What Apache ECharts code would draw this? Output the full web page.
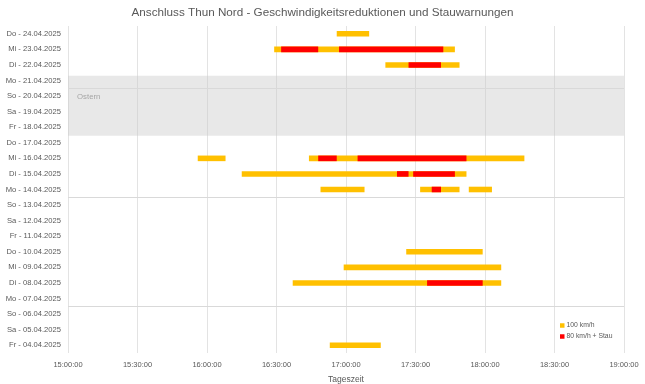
<!DOCTYPE html>
<html><head><meta charset="utf-8">
<script src="https://cdn.jsdelivr.net/npm/echarts@6/dist/echarts.min.js"></script>
<style>html,body{margin:0;padding:0;background:#fff}#c{width:645px;height:384px}</style>
</head><body><div id="c"></div>
<script>
const days = ['Fr - 04.04.2025','Sa - 05.04.2025','So - 06.04.2025','Mo - 07.04.2025','Di - 08.04.2025','Mi - 09.04.2025','Do - 10.04.2025','Fr - 11.04.2025','Sa - 12.04.2025','So - 13.04.2025','Mo - 14.04.2025','Di - 15.04.2025','Mi - 16.04.2025','Do - 17.04.2025','Fr - 18.04.2025','Sa - 19.04.2025','So - 20.04.2025','Mo - 21.04.2025','Di - 22.04.2025','Mi - 23.04.2025','Do - 24.04.2025'];
const yellow100 = [
  ['Fr - 04.04.2025','16:53','17:15'],
  ['Di - 08.04.2025','16:37','18:07'],
  ['Mi - 09.04.2025','16:59','18:07'],
  ['Do - 10.04.2025','17:26','17:59'],
  ['Mo - 14.04.2025','16:49','17:08'],
  ['Mo - 14.04.2025','17:32','17:49'],
  ['Mo - 14.04.2025','17:53','18:03'],
  ['Di - 15.04.2025','16:15','17:52'],
  ['Mi - 16.04.2025','15:56','16:08'],
  ['Mi - 16.04.2025','16:44','18:17'],
  ['Di - 22.04.2025','17:17','17:49'],
  ['Mi - 23.04.2025','16:29','17:47'],
  ['Do - 24.04.2025','16:56','17:10']
];
const red80Stau = [
  ['Di - 08.04.2025','17:35','17:59'],
  ['Mo - 14.04.2025','17:37','17:41'],
  ['Di - 15.04.2025','17:22','17:27'],
  ['Di - 15.04.2025','17:29','17:47'],
  ['Mi - 16.04.2025','16:48','16:56'],
  ['Mi - 16.04.2025','17:05','17:52'],
  ['Di - 22.04.2025','17:27','17:41'],
  ['Mi - 23.04.2025','16:32','16:48'],
  ['Mi - 23.04.2025','16:57','17:42']
];
const weekSeparators = [2.5, 9.5, 16.5];
const easterBand = ['Fr - 18.04.2025','Mo - 21.04.2025','Ostern'];
const xTicks = ['15:00','19:00'];

const toMin = s => { const p = s.split(':'); return (+p[0])*60 + (+p[1]); };
const fmt = m => String(Math.floor(m/60)).padStart(2,'0') + ':' + String(m%60).padStart(2,'0') + ':00';
const toData = arr => arr.map(r => [toMin(r[1]), toMin(r[2]), days.indexOf(r[0])]);

function renderSeg(params, api){
  const s = api.coord([api.value(0), api.value(2)]);
  const e = api.coord([api.value(1), api.value(2)]);
  const h = api.size([0,1])[1] * 0.36;
  return {type:'rect', shape:{x:s[0], y:s[1]-h/2, width:e[0]-s[0], height:h}, style:{fill: api.visual('color')}};
}

const chart = echarts.init(document.getElementById('c'));
chart.setOption({
  animation:false,
  textStyle:{fontFamily:'"Liberation Sans",sans-serif'},
  title:{text:'Anschluss Thun Nord - Geschwindigkeitsreduktionen und Stauwarnungen', left:'center', top:2,
    textStyle:{fontSize:11.7, fontWeight:'normal', color:'#595959'}},
  grid:{left:68, right:21, top:26, bottom:31, outerBoundsMode:'none', containLabel:false},
  legend:{orient:'vertical', left:555, top:317, itemWidth:4.5, itemHeight:4.5, itemGap:4,
    textStyle:{fontSize:6.8, color:'#595959', padding:[0,0,0,-3]},
    data:[{name:'100 km/h', icon:'rect'},{name:'80 km/h + Stau', icon:'rect'}]},
  xAxis:{type:'value', min:toMin(xTicks[0]), max:toMin(xTicks[1]), interval:30,
    axisLine:{show:false}, axisTick:{show:false},
    splitLine:{show:true, lineStyle:{color:'#e3e3e3', width:1}},
    axisLabel:{formatter:v=>fmt(v), fontSize:7.5, color:'#595959', margin:8},
    name:'Tageszeit', nameLocation:'middle', nameGap:22, nameTextStyle:{fontSize:8.5, color:'#595959'}},
  yAxis:[
    {type:'category', data:days, axisLine:{show:false}, axisTick:{show:false}, splitLine:{show:false},
      axisLabel:{fontSize:7.6, color:'#595959', margin:7}},
    {type:'value', min:-0.5, max:20.5, show:false, splitLine:{show:false}}
  ],
  series:[
    {name:'band', type:'custom', yAxisIndex:1, renderItem:()=>({type:'group',children:[]}), data:[],
      silent:true,
      markArea:{silent:true, itemStyle:{color:'rgba(200,200,200,0.42)'},
        label:{show:true, position:[9,17], fontSize:7.8, color:'#a6a6a6'},
        data:[[{name:easterBand[2], yAxis:days.indexOf(easterBand[0])-0.55},{yAxis:days.indexOf(easterBand[1])+0.3}]]},
      markLine:{silent:true, symbol:['none','none'], label:{show:false}, lineStyle:{color:'#d9d9d9', type:'solid', width:1},
        data: weekSeparators.map(v=>({yAxis:v}))}
    },
    {name:'100 km/h', type:'custom', yAxisIndex:1, renderItem:renderSeg, itemStyle:{color:'#FFC000'},
      encode:{x:[0,1], y:2}, data:toData(yellow100)},
    {name:'80 km/h + Stau', type:'custom', yAxisIndex:1, renderItem:renderSeg, itemStyle:{color:'#FF0000'},
      encode:{x:[0,1], y:2}, data:toData(red80Stau)}
  ]
});
</script></body></html>
